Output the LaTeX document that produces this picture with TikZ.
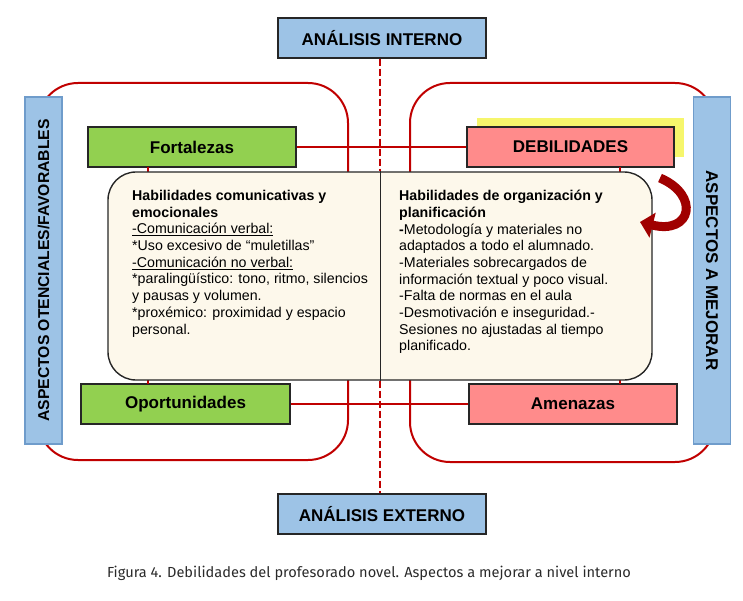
\documentclass[tikz,border=0pt]{standalone}
\usepackage{fontspec}
\setmainfont{Liberation Sans}
\newfontfamily\capfont{Fira Sans}
\usetikzlibrary{arrows.meta}
\definecolor{barblue}{HTML}{9DC3E6}
\definecolor{barborder}{HTML}{6F9CCB}
\definecolor{boxgreen}{HTML}{92D050}
\definecolor{boxpink}{HTML}{FF8B8B}
\definecolor{loopred}{HTML}{C00000}
\definecolor{arrowred}{HTML}{A00000}
\definecolor{cream}{HTML}{FDF8EB}
\definecolor{hiyellow}{HTML}{F6F66C}
\definecolor{captext}{HTML}{2A2A2A}
\tikzset{
  labelbox/.style={draw=black!85, line width=1.4pt, minimum width=208pt, minimum height=40pt, inner sep=0pt,
    font=\bfseries\fontsize{17}{19}\selectfont},
  analysis/.style={labelbox, fill=barblue},
  goodbox/.style={labelbox, fill=boxgreen},
  badbox/.style={labelbox, fill=boxpink},
  sidebar/.style={draw=barborder, line width=1.2pt, fill=barblue, minimum width=347pt, minimum height=37pt, inner sep=0pt},
  loopline/.style={draw=loopred, line width=2pt, rounded corners=40pt},
  redlink/.style={draw=loopred, line width=2pt},
  dashlink/.style={draw=loopred, line width=1.8pt, dash pattern=on 7pt off 3pt},
  coltext/.style={anchor=north west, inner sep=0pt, align=left, font=\fontsize{14.2}{16.7}\selectfont}
}
\begin{document}
\begin{tikzpicture}[x=1pt,y=-1pt]
\useasboundingbox (0,0) rectangle (743,601);
% loops
\draw[loopline] (38,83) rectangle (348,460);
\draw[loopline] (410,83) rectangle (715,462);
% nodes
\node[analysis] (intern) at (382,38) {ANÁLISIS INTERNO};
\node[analysis] (extern) at (382,514) {ANÁLISIS EXTERNO};
\fill[hiyellow] (477,118) rectangle (684,157);
\node[goodbox] (fort) at (192,147) {Fortalezas};
\node[badbox, minimum width=207pt] (debil) at (570.5,147) {DEBILIDADES};
\node[goodbox, minimum width=209pt] (oport) at (185.5,404) {Oportunidades};
\node[badbox] (amen) at (573,404) {Amenazas};
% connectors behind central box
\draw[redlink] (fort.east) -- (debil.west);
\draw[redlink] (oport.east) -- (amen.west);
\coordinate (fs) at (148,167);
\coordinate (os) at (148,384);
\coordinate (ds) at (620,167);
\coordinate (as) at (620,384);
\draw[redlink] (fs) -- (os);
\draw[redlink] (ds) -- (as);
% central box
\node[draw=black!85, line width=1.4pt, fill=cream, rounded corners=28pt, minimum width=544pt, minimum height=208pt, inner sep=0pt] (cbox) at (380,276) {};
\draw[dashlink] (intern.south -| cbox.north) -- (cbox.north);
\draw[dashlink] (cbox.south) -- (extern.north -| cbox.south);
\draw[black!85, line width=1pt] (cbox.north) -- (cbox.south);
\node[coltext] (left) at (132,190) {\textbf{Habilidades comunicativas y}\\
\textbf{emocionales}\\
\underline{-Comunicación verbal:}\\
*Uso excesivo de “muletillas”\\
\underline{-Comunicación no verbal:}\\
*paralingüístico: tono, ritmo, silencios\\
y pausas y volumen.\\
*proxémico: proximidad y espacio\\
personal.};
\node[coltext] (right) at (399,190) {\textbf{Habilidades de organización y}\\
\textbf{planificación}\\
\textbf{-}Metodología y materiales no\\
adaptados a todo el alumnado.\\
-Materiales sobrecargados de\\
información textual y poco visual.\\
-Falta de normas en el aula\\
-Desmotivación e inseguridad.-\\
Sesiones no ajustadas al tiempo\\
planificado.};
% side bars
\node[sidebar, rotate=90, font=\bfseries\fontsize{15.7}{17}\selectfont] (lbar) at (43.5,270.5) {ASPECTOS OTENCIALES/FAVORABLES};
\node[sidebar, rotate=-90, font=\bfseries\fontsize{17}{19}\selectfont] (rbar) at (712,270.5) {ASPECTOS A MEJORAR};
% curved arrow
\coordinate (atail) at (660,178);
\coordinate (ahead) at (640,222);
\draw[arrowred, line width=9pt, -{Triangle[length=13pt,width=25pt]}] (atail) .. controls (700,195) and (692,235) .. (ahead);
% caption
\node[font=\capfont\fontsize{14.6}{17}\selectfont, text=captext] (cap) at (369,573) {Figura 4. Debilidades del profesorado novel. Aspectos a mejorar a nivel interno};
\end{tikzpicture}
\end{document}
